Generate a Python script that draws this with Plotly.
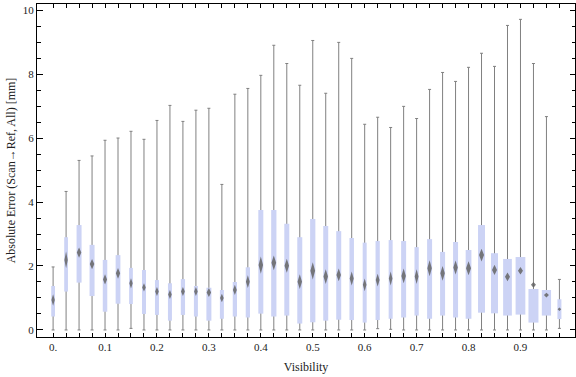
import plotly.graph_objects as go

# ---------------- data ----------------
visibility = [0.0, 0.025, 0.05, 0.075, 0.1, 0.125, 0.15, 0.175, 0.2, 0.225,
              0.25, 0.275, 0.3, 0.325, 0.35, 0.375, 0.4, 0.425, 0.45, 0.475,
              0.5, 0.525, 0.55, 0.575, 0.6, 0.625, 0.65, 0.675, 0.7, 0.725,
              0.75, 0.775, 0.8, 0.825, 0.85, 0.875, 0.9, 0.925, 0.95, 0.975]

whisker_low = [0, 0, 0, 0, 0, 0, 0.05, 0, 0, 0,
               0, 0, 0, 0, 0, 0, 0, 0, 0, 0,
               0, 0, 0, 0, 0, 0.04, 0.02, 0, 0, 0,
               0, 0, 0, 0, 0, 0, 0, 0, 0, 0.05]

whisker_high = [1.97, 4.33, 5.30, 5.44, 5.93, 6.00, 6.21, 5.96, 6.55, 7.02,
                6.52, 6.87, 6.93, 4.55, 7.37, 7.55, 7.96, 8.90, 8.33, 7.65,
                9.05, 7.40, 8.99, 8.49, 6.43, 6.65, 6.33, 6.99, 6.61, 7.52,
                8.05, 7.77, 8.21, 8.65, 8.24, 9.52, 9.71, 8.33, 6.67, 1.58]

q1 = [0.42, 1.20, 1.48, 1.06, 0.57, 0.82, 0.81, 0.50, 0.47, 0.29,
      0.47, 0.42, 0.29, 0.35, 0.42, 0.39, 0.51, 0.42, 0.45, 0.20,
      0.24, 0.29, 0.32, 0.31, 0.23, 0.31, 0.35, 0.39, 0.45, 0.35,
      0.45, 0.39, 0.35, 0.54, 0.52, 0.45, 0.48, 0.23, 0.45, 0.34]

q3 = [1.375, 2.90, 3.28, 2.66, 2.19, 2.34, 1.94, 1.875, 1.56, 1.46,
      1.59, 1.375, 1.32, 1.25, 1.50, 1.96, 3.75, 3.75, 3.32, 2.90,
      3.47, 3.25, 3.09, 2.875, 2.73, 2.78, 2.81, 2.78, 2.59, 2.84,
      2.44, 2.75, 2.50, 3.28, 2.40, 2.22, 2.28, 1.28, 1.25, 0.96]

median = [0.94, 2.19, 2.42, 2.06, 1.58, 1.77, 1.46, 1.33, 1.20, 1.11,
          1.20, 1.20, 1.17, 1.00, 1.25, 1.51, 2.03, 2.10, 2.01, 1.51,
          1.85, 1.67, 1.72, 1.61, 1.41, 1.56, 1.61, 1.69, 1.67, 1.93,
          1.77, 1.95, 1.93, 2.34, 1.875, 1.66, 1.85, 1.41, 1.09, 0.65]

# half-height of the median notch (confidence band), in mm
median_ci = [0.18, 0.26, 0.16, 0.16, 0.16, 0.17, 0.16, 0.13, 0.14, 0.14,
             0.14, 0.14, 0.14, 0.13, 0.16, 0.20, 0.27, 0.23, 0.22, 0.23,
             0.27, 0.23, 0.20, 0.22, 0.20, 0.20, 0.22, 0.23, 0.23, 0.25,
             0.23, 0.22, 0.22, 0.20, 0.16, 0.14, 0.12, 0.09, 0.075, 0.055]

# relative sample weight (drives box width)
sample_weight = [0.75, 0.75, 1.0, 1.0, 0.9, 0.95, 0.75, 0.8, 0.8, 0.8,
                 0.85, 0.8, 1.0, 0.8, 0.85, 0.85, 1.0, 1.05, 1.0, 1.0,
                 1.05, 1.0, 1.0, 0.9, 0.8, 0.85, 0.8, 1.0, 0.85, 1.0,
                 1.0, 1.0, 1.15, 1.4, 1.4, 1.75, 1.95, 2.0, 1.85, 0.8]

x_tick_vals = [0.0, 0.1, 0.2, 0.3, 0.4, 0.5, 0.6, 0.7, 0.8, 0.9]
x_tick_text = ["0.", "0.1", "0.2", "0.3", "0.4", "0.5", "0.6", "0.7", "0.8", "0.9"]
y_tick_vals = [0, 2, 4, 6, 8, 10]

# ---------------- style / layout constants ----------------
W, H = 576, 377
M_L, M_R, M_T, M_B = 37, 1, 4, 40
X_RANGE = [-0.031, 1.005]
Y_RANGE = [-0.22, 10.19]
BASE_BOX_PX = 5.0
DIAMOND_PX = 5.0
BOX_COLOR = "rgb(204,211,245)"
WHISKER_COLOR = "#808080"
DIAMOND_COLOR = "rgba(100,100,100,0.85)"
FONT = "Liberation Serif"

px_per_x = (W - M_L - M_R) / (X_RANGE[1] - X_RANGE[0])

fig = go.Figure()

# whiskers (full range; boxes are drawn over them)
fig.add_trace(go.Scatter(
    x=visibility, y=whisker_low, mode="markers",
    marker=dict(size=1, opacity=0),
    error_y=dict(type="data", symmetric=False,
                 array=[h - l for h, l in zip(whisker_high, whisker_low)],
                 arrayminus=[0] * len(visibility),
                 color=WHISKER_COLOR, thickness=1, width=1.5),
    hoverinfo="skip", showlegend=False))

# boxes: thick error bars from q1 to q3
for xv, a, b, wgt in zip(visibility, q1, q3, sample_weight):
    fig.add_trace(go.Scatter(
        x=[xv], y=[a], mode="markers",
        marker=dict(size=1, opacity=0),
        error_y=dict(type="data", symmetric=False, array=[b - a], arrayminus=[0],
                     color=BOX_COLOR, thickness=BASE_BOX_PX * wgt, width=0),
        hoverinfo="skip", showlegend=False))

# median notch diamonds
dx_list, dy_list = [], []
for xv, m, ci, wgt in zip(visibility, median, median_ci, sample_weight):
    half_w = min(DIAMOND_PX, BASE_BOX_PX * wgt * 0.9) / 2 / px_per_x
    dx_list += [xv - half_w, xv, xv + half_w, xv, xv - half_w, None]
    dy_list += [m, m + ci, m, m - ci, m, None]
fig.add_trace(go.Scatter(
    x=dx_list, y=dy_list, mode="lines", fill="toself",
    fillcolor=DIAMOND_COLOR, line=dict(width=0, color=DIAMOND_COLOR),
    hoverinfo="skip", showlegend=False))

axis_common = dict(showline=True, linecolor="black", linewidth=1, mirror="ticks",
                   showgrid=False, zeroline=False, ticks="inside", automargin=False,
                   tickcolor="black", tickwidth=1,
                   tickfont=dict(family=FONT, size=11, color="#222"))

fig.update_layout(
    width=W, height=H,
    margin=dict(l=M_L, r=M_R, t=M_T, b=M_B),
    paper_bgcolor="white", plot_bgcolor="white",
    font=dict(family=FONT, size=12, color="#222"),
    hovermode=False,
    xaxis=dict(range=X_RANGE, tickmode="array", tickvals=x_tick_vals,
               ticktext=x_tick_text, ticklen=4,
               minor=dict(tickmode="array", tickvals=visibility, ticks="inside",
                          ticklen=4, tickcolor="black", showgrid=False),
               title=dict(text="Visibility", font=dict(family=FONT, size=12, color="#222"),
                          standoff=10),
               **axis_common),
    yaxis=dict(range=Y_RANGE, tickmode="array", tickvals=y_tick_vals, ticklen=5.5,
               minor=dict(tickmode="linear", tick0=0, dtick=0.5, ticks="inside",
                          ticklen=3.5, tickcolor="black", showgrid=False),
               title=dict(text="Absolute Error (Scan\u2192Ref, All) [mm]",
                          font=dict(family=FONT, size=12, color="#222"), standoff=4),
               **axis_common),
)

fig.write_html("out.html",
               config={"displayModeBar": False, "staticPlot": True},
               post_script="document.body.style.margin='0';document.body.style.padding='0';")
